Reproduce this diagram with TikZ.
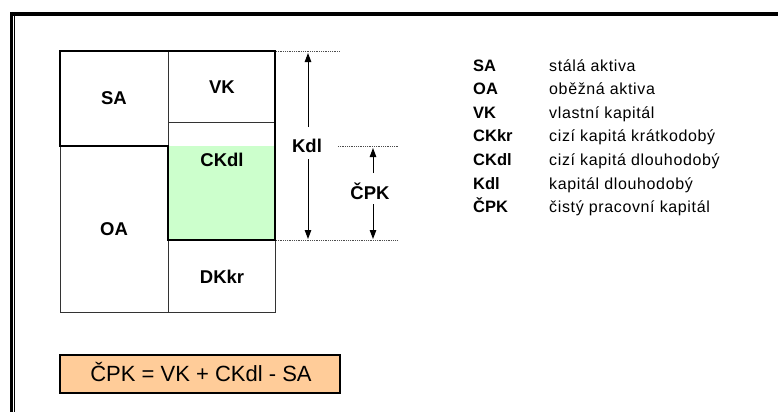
\documentclass[tikz,border=0pt]{standalone}
\usepackage{fontspec}
\setmainfont{Liberation Sans}
\newfontfamily\descfont[LetterSpace=4]{Liberation Sans}
\usetikzlibrary{arrows.meta}
\definecolor{greenfill}{HTML}{CCFFCC}
\definecolor{peach}{HTML}{FFCC99}
\tikzset{
  thick line/.style={line width=2.7pt, line join=miter},
  thin line/.style={line width=1pt, black!80},
  dotline/.style={line width=0.7pt, black!70, dash pattern=on 0.7pt off 1.1pt},
  arr/.style={line width=1pt, -{Triangle[width=6.5pt,length=9pt]}},
  boxlabel/.style={font=\fontsize{18.5}{21}\selectfont\bfseries, anchor=base, inner sep=0pt},
  abbr/.style={font=\fontsize{16.5}{19}\selectfont\bfseries, anchor=base west, inner sep=0pt},
  desc/.style={font=\descfont\fontsize{16}{19}\selectfont, anchor=base west, inner sep=0pt},
}
\begin{document}
\begin{tikzpicture}[x=1pt,y=-1pt]
\useasboundingbox (0,0) rectangle (778,412);
\fill[white] (0,0) rectangle (778,412);
% frame
\draw[line width=4pt] (10,14) -- (778,14);
\draw[line width=3.3pt] (11.7,12) -- (11.7,412);
\draw[line width=1pt] (14.8,14) -- (14.8,412);
% green area
\fill[greenfill] (168,146) rectangle (275,240);
% thin lines
\draw[thin line] (168,51) -- (168,146);
\draw[thin line] (168,122) -- (275,122);
\draw[thin line] (60,146) -- (60,312) -- (275,312) -- (275,240);
\draw[thin line] (168,240) -- (168,312);
% thick outline
\draw[thick line] (60,51) -- (275,51) -- (275,240) -- (168,240) -- (168,146) -- (60,146) -- cycle;
% box labels
\node[boxlabel] (sa) at (114,104) {SA};
\node[boxlabel] (vk) at (222,93) {VK};
\node[boxlabel] (ckdl) at (222,166) {CKdl};
\node[boxlabel] (oa) at (114,235) {OA};
\node[boxlabel] (dkkr) at (222,283) {DKkr};
% dotted guide lines
\coordinate (d1a) at (276,51);
\coordinate (d1b) at (340,51);
\coordinate (d2a) at (338,146);
\coordinate (d2b) at (398,146);
\coordinate (d3a) at (276,240);
\coordinate (d3b) at (398,240);
\draw[dotline] (d1a) -- (d1b);
\draw[dotline] (d2a) -- (d2b);
\draw[dotline] (d3a) -- (d3b);
% Kdl arrow
\node[boxlabel] (kdl) at (307,152) {Kdl};
\coordinate (kdltop) at (308,53);
\coordinate (kdlbot) at (308,239);
\coordinate (kdlup) at (308,127);
\coordinate (kdldown) at (308,159);
\draw[arr] (kdlup) -- (kdltop);
\draw[arr] (kdldown) -- (kdlbot);
% CPK arrow
\node[boxlabel] (cpk) at (370,199) {ČPK};
\coordinate (cpktop) at (373,148);
\coordinate (cpkbot) at (373,239);
\coordinate (cpkup) at (373,173);
\coordinate (cpkdown) at (373,204);
\draw[arr] (cpkup) -- (cpktop);
\draw[arr] (cpkdown) -- (cpkbot);
% legend
\node[abbr] (l1a) at (473,71) {SA};
\node[desc] (l1b) at (549,71) {stálá aktiva};
\node[abbr] (l2a) at (473,94.6) {OA};
\node[desc] (l2b) at (549,94.6) {oběžná aktiva};
\node[abbr] (l3a) at (473,118.2) {VK};
\node[desc] (l3b) at (549,118.2) {vlastní kapitál};
\node[abbr] (l4a) at (473,141.8) {CKkr};
\node[desc] (l4b) at (549,141.8) {cizí kapitá krátkodobý};
\node[abbr] (l5a) at (473,165.4) {CKdl};
\node[desc] (l5b) at (549,165.4) {cizí kapitá dlouhodobý};
\node[abbr] (l6a) at (473,189) {Kdl};
\node[desc] (l6b) at (549,189) {kapitál dlouhodobý};
\node[abbr] (l7a) at (473,212.6) {ČPK};
\node[desc] (l7b) at (549,212.6) {čistý pracovní kapitál};
% equation box
\draw[line width=2.2pt, fill=peach] (60,355) rectangle (340,393);
\node[font=\fontsize{22}{25}\selectfont, anchor=base, inner sep=0pt] (eq) at (201,381.5) {ČPK = VK + CKdl - SA};
\end{tikzpicture}
\end{document}
